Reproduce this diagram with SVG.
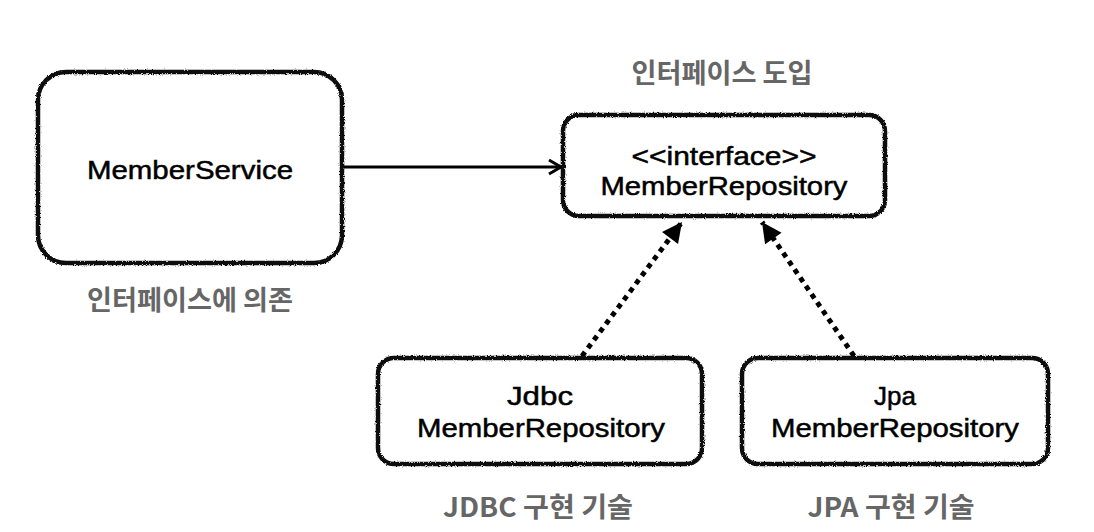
<svg xmlns="http://www.w3.org/2000/svg" width="1094" height="532" viewBox="0 0 1094 532">
  <style>
    .box { fill: #ffffff; stroke: #111111; stroke-width: 4.5; filter: url(#rough); }
    .nt { font-family: "Liberation Sans", Arial, sans-serif; font-size: 26px; font-weight: 400; fill: #000000; stroke: #000000; stroke-width: 0.5; text-anchor: middle; }
    .lbl { font-family: "Noto Sans CJK KR", "Noto Sans", sans-serif; font-size: 27px; font-weight: 700; fill: #666666; text-anchor: middle; }
    .solid { fill: none; stroke: #000000; stroke-width: 3; }
    .dot { fill: none; stroke: #000000; stroke-width: 5; stroke-dasharray: 5 5; }
  </style>
  <defs>
    <filter id="rough" x="-5%" y="-5%" width="110%" height="110%">
      <feTurbulence type="fractalNoise" baseFrequency="0.9" numOctaves="2" seed="3" result="n"/>
      <feDisplacementMap in="SourceGraphic" in2="n" scale="3" xChannelSelector="R" yChannelSelector="G"/>
    </filter>
    <marker id="open" viewBox="0 0 20 20" refX="18" refY="10" markerWidth="20" markerHeight="20" markerUnits="userSpaceOnUse" orient="auto">
      <path d="M6,3 L18,10 L6,17" fill="none" stroke="#000" stroke-width="3"/>
    </marker>
    <marker id="tri" viewBox="0 0 24 24" refX="22" refY="12" markerWidth="24" markerHeight="24" markerUnits="userSpaceOnUse" orient="auto">
      <path d="M2,2 L22,12 L2,22 Z" fill="#000"/>
    </marker>
  </defs>

  <g id="connectors">
    <line class="solid" x1="343" y1="167" x2="561" y2="167" marker-end="url(#open)"/>
    <line class="dot" x1="582" y1="356" x2="682" y2="222" marker-end="url(#tri)"/>
    <line class="dot" x1="854" y1="356" x2="762" y2="222" marker-end="url(#tri)"/>
  </g>

  <g id="member-service">
    <rect class="box" x="38" y="72" width="304" height="191" rx="28" ry="28"/>
    <text class="nt" x="190" y="179" textLength="206" lengthAdjust="spacingAndGlyphs">MemberService</text>
  </g>
  <text class="lbl" x="190" y="310" textLength="206" lengthAdjust="spacingAndGlyphs">인터페이스에 의존</text>

  <g id="member-repository">
    <rect class="box" x="563" y="115" width="322" height="101" rx="16" ry="16"/>
    <text class="nt" x="724" y="165" textLength="185" lengthAdjust="spacingAndGlyphs">&lt;&lt;interface&gt;&gt;</text>
    <text class="nt" x="724" y="195" textLength="247" lengthAdjust="spacingAndGlyphs">MemberRepository</text>
  </g>
  <text class="lbl" x="722" y="83" textLength="181" lengthAdjust="spacingAndGlyphs">인터페이스 도입</text>

  <g id="jdbc-member-repository">
    <rect class="box" x="378" y="358" width="324" height="106" rx="16" ry="16"/>
    <text class="nt" x="540" y="405" textLength="66" lengthAdjust="spacingAndGlyphs">Jdbc</text>
    <text class="nt" x="541" y="437" textLength="248" lengthAdjust="spacingAndGlyphs">MemberRepository</text>
  </g>
  <text class="lbl" x="538" y="517" textLength="190" lengthAdjust="spacingAndGlyphs">JDBC 구현 기술</text>

  <g id="jpa-member-repository">
    <rect class="box" x="742" y="358" width="306" height="106" rx="16" ry="16"/>
    <text class="nt" x="895" y="405">Jpa</text>
    <text class="nt" x="895" y="437" textLength="248" lengthAdjust="spacingAndGlyphs">MemberRepository</text>
  </g>
  <text class="lbl" x="891" y="517" textLength="167" lengthAdjust="spacingAndGlyphs">JPA 구현 기술</text>
</svg>
